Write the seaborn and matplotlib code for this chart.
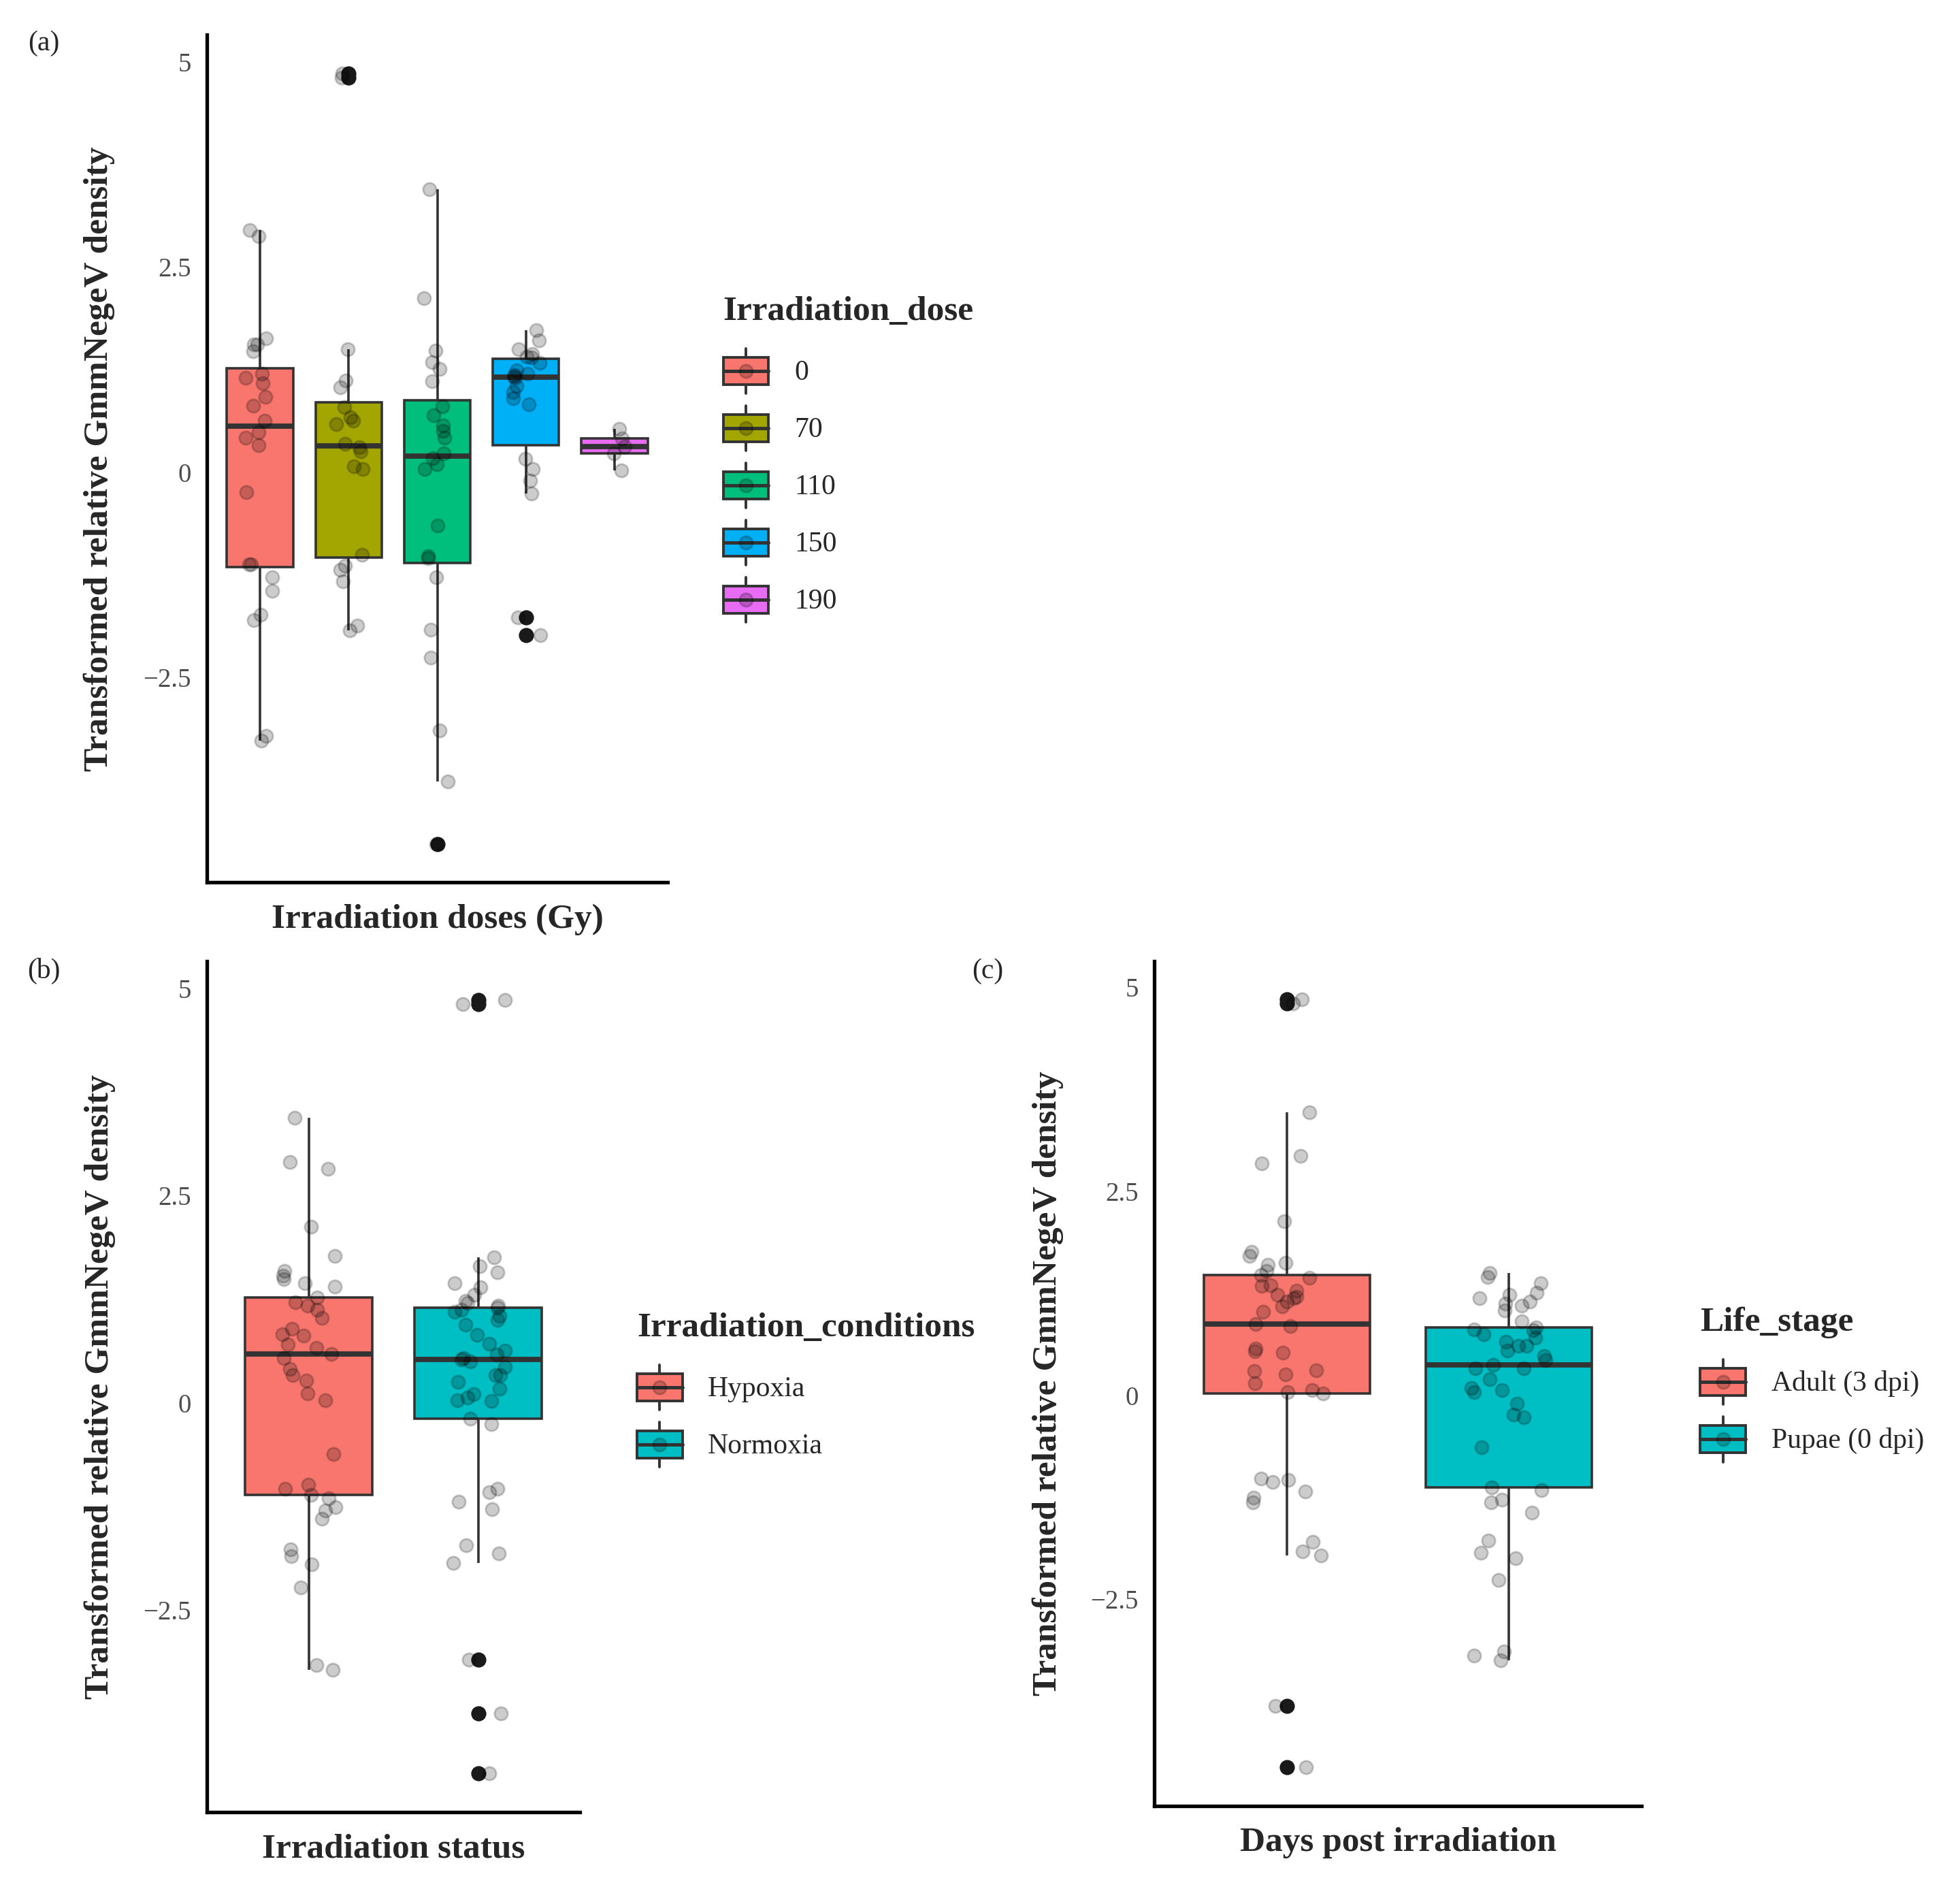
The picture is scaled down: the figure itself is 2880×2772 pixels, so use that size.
import numpy as np
import pandas as pd
import matplotlib
matplotlib.use('Agg')
import matplotlib.pyplot as plt
import seaborn as sns
from matplotlib.legend_handler import HandlerBase
from matplotlib.patches import Rectangle, Patch
from matplotlib.lines import Line2D

# panel (a): irradiation dose groups
dose_names = ['0', '70', '110', '150', '190']
dose_0 = [-3.27, -3.21, -1.80, -1.74, -1.45, -1.28, -1.12, -1.12, -0.24, 0.33, 0.42, 0.49,
          0.63, 0.81, 0.92, 1.08, 1.15, 1.20, 1.47, 1.56, 1.56, 1.63, 2.88, 2.95]
dose_70 = [-1.93, -1.87, -1.33, -1.19, -1.14, -1.01, 0.04, 0.07, 0.25, 0.30, 0.345, 0.59,
           0.63, 0.665, 0.79, 1.03, 1.12, 1.50, 4.81, 4.86]
dose_110 = [-4.53, -3.77, -3.15, -2.26, -1.92, -1.28, -1.05, -1.02, -0.65, 0.04, 0.10, 0.17,
            0.23, 0.42, 0.50, 0.57, 0.69, 0.80, 1.11, 1.26, 1.34, 1.48, 2.12, 3.45]
dose_150 = [-1.99, -1.77, -0.26, -0.10, 0.04, 0.16, 0.83, 0.90, 0.98, 1.05, 1.15, 1.17,
            1.18, 1.20, 1.24, 1.33, 1.40, 1.41, 1.44, 1.50, 1.61, 1.73]
dose_190 = [0.02, 0.23, 0.31, 0.41, 0.53]

# panel (b): irradiation conditions
cond_names = ['Hypoxia', 'Normoxia']
hypoxia = [-3.22, -3.16, -2.23, -1.95, -1.85, -1.77, -1.40, -1.30, -1.26, -1.15, -1.11, -1.04,
           -0.99, -0.62, 0.03, 0.11, 0.27, 0.33, 0.41, 0.54, 0.59, 0.66, 0.70, 0.81, 0.83,
           0.89, 1.02, 1.12, 1.17, 1.21, 1.27, 1.40, 1.44, 1.49, 1.53, 1.59, 1.77, 2.12,
           2.82, 2.90, 3.44]
normoxia = [-4.47, -3.75, -3.10, -1.93, -1.82, -1.72, -1.28, -1.19, -1.08, -1.04, -0.26, -0.19,
            0.02, 0.03, 0.06, 0.10, 0.17, 0.25, 0.33, 0.33, 0.43, 0.50, 0.52, 0.54, 0.58,
            0.63, 0.71, 0.82, 0.94, 1.00, 1.05, 1.10, 1.12, 1.15, 1.17, 1.20, 1.23, 1.30,
            1.39, 1.44, 1.57, 1.65, 1.75, 4.81, 4.86]

# panel (c): life stage
stage_names = ['Adult (3 dpi)', 'Pupae (0 dpi)']
adult = [-4.56, -3.81, -1.96, -1.91, -1.80, -1.31, -1.25, -1.18, -1.06, -1.04, -1.02, 0.02,
         0.04, 0.06, 0.15, 0.26, 0.30, 0.31, 0.52, 0.54, 0.57, 0.85, 0.87, 1.02, 1.09, 1.15,
         1.19, 1.21, 1.23, 1.28, 1.34, 1.35, 1.44, 1.47, 1.52, 1.60, 1.62, 1.71, 1.76, 2.13,
         2.84, 2.93, 3.47, 4.80, 4.85]
pupae = [-3.25, -3.19, -3.14, -2.26, -2.00, -1.93, -1.78, -1.44, -1.31, -1.28, -1.16, -1.13,
         -0.64, -0.27, -0.24, -0.10, 0.04, 0.06, 0.09, 0.20, 0.33, 0.33, 0.37, 0.43, 0.48,
         0.55, 0.61, 0.61, 0.66, 0.71, 0.75, 0.80, 0.81, 0.83, 0.91, 1.04, 1.10, 1.12, 1.15,
         1.19, 1.23, 1.26, 1.37, 1.45, 1.50]

dose_colors = ['#F8766D', '#A3A500', '#00BF7D', '#00B0F6', '#E76BF3']
two_colors = ['#F8766D', '#00BFC4']
LINE = '#333333'
YLAB = 'Transformed relative GmmNegeV density'


class BoxKey(HandlerBase):
    # ggplot-like boxplot legend key
    def create_artists(self, legend, orig_handle, xdescent, ydescent, width, height, fontsize, trans):
        x0, y0 = -xdescent, -ydescent
        cx, cy = x0 + width / 2, y0 + height / 2
        lw = 1.4
        lo = Line2D([cx, cx], [y0, y0 + 0.2 * height], color=LINE, lw=lw, transform=trans)
        hi = Line2D([cx, cx], [y0 + 0.8 * height, y0 + height], color=LINE, lw=lw, transform=trans)
        box = Rectangle((x0, y0 + 0.2 * height), width, 0.6 * height, facecolor=orig_handle.get_facecolor(),
                        edgecolor=LINE, lw=lw, transform=trans)
        med = Line2D([x0, x0 + width], [cy, cy], color=LINE, lw=1.8, transform=trans)
        dot = Line2D([cx], [cy], marker='o', ms=7, color='black', alpha=0.2, ls='', transform=trans)
        return [lo, hi, box, med, dot]


def long_table(names, groups, col):
    rows = {col: [], 'value': []}
    for n, g in zip(names, groups):
        rows[col] += [n] * len(g)
        rows['value'] += list(g)
    return pd.DataFrame(rows)


def panel(ax, df, col, order, colors, xlabel):
    sns.boxplot(data=df, x=col, y='value', order=order, hue=col, hue_order=order, palette=colors,
                saturation=1, width=0.75, linecolor=LINE, linewidth=1.3, legend=False, ax=ax,
                medianprops=dict(linewidth=2.8, color=LINE),
                capprops=dict(linewidth=0),
                flierprops=dict(marker='o', markerfacecolor='#1a1a1a', markeredgecolor='#1a1a1a',
                                markersize=7))
    sns.stripplot(data=df, x=col, y='value', order=order, color='black', alpha=0.2, size=7,
                  jitter=0.17, linewidth=1, edgecolor='black', zorder=3, ax=ax)

    lo, hi = df['value'].min(), df['value'].max()
    pad = 0.05 * (hi - lo)
    ax.set_ylim(lo - pad, hi + pad)
    ax.set_xlim(-0.6, len(order) - 0.4)
    ax.set_yticks([-2.5, 0, 2.5, 5])
    ax.set_yticklabels(['\u22122.5', '0', '2.5', '5'])
    ax.set_xticks(range(len(order)))
    ax.set_xticklabels([])
    ax.tick_params(axis='both', length=5, width=1.1, color=LINE, labelsize=14, labelcolor='#4D4D4D')
    sns.despine(ax=ax)
    for s in ['left', 'bottom']:
        ax.spines[s].set_linewidth(1.9)
        ax.spines[s].set_color('black')
    ax.set_xlabel(xlabel, fontsize=18.5, fontweight='bold')
    ax.set_ylabel(YLAB, fontsize=18.5, fontweight='bold')


def legend(fig, names, colors, title, x, y):
    handles = [Patch(facecolor=c) for c in colors]
    leg = fig.legend(handles, names, title=title, loc='upper left', bbox_to_anchor=(x, y), frameon=False,
                     handler_map={Patch: BoxKey()}, fontsize=15,
                     title_fontproperties={'weight': 'bold', 'size': 18.5}, alignment='left',
                     handlelength=1.6, handleheight=2.08, labelspacing=0.42, handletextpad=0.9,
                     borderaxespad=0, borderpad=0)
    # a bit more room between title and keys
    leg._legend_box.sep = 11
    return leg


def main():
    np.random.seed(3)
    sns.set_style('white')
    plt.rcParams['font.family'] = ['Liberation Serif', 'DejaVu Serif']

    fig = plt.figure(figsize=(14.4, 13.86), dpi=200)
    ax_a = fig.add_axes([0.1056, 0.5324, 0.2350, 0.4491])
    ax_b = fig.add_axes([0.1056, 0.0397, 0.1902, 0.4510])
    ax_c = fig.add_axes([0.5890, 0.0430, 0.2484, 0.4477])

    df_a = long_table(dose_names, [dose_0, dose_70, dose_110, dose_150, dose_190], 'Irradiation_dose')
    df_b = long_table(cond_names, [hypoxia, normoxia], 'Irradiation_conditions')
    df_c = long_table(stage_names, [adult, pupae], 'Life_stage')

    panel(ax_a, df_a, 'Irradiation_dose', dose_names, dose_colors, 'Irradiation doses (Gy)')
    panel(ax_b, df_b, 'Irradiation_conditions', cond_names, two_colors, 'Irradiation status')
    panel(ax_c, df_c, 'Life_stage', stage_names, two_colors, 'Days post irradiation')

    ax_a.yaxis.set_label_coords(-0.20, 0.5)
    ax_b.yaxis.set_label_coords(-0.245, 0.5)
    ax_c.yaxis.set_label_coords(-0.186, 0.5)
    for ax in [ax_a, ax_b, ax_c]:
        ax.xaxis.set_label_coords(0.5, -0.025)

    legend(fig, dose_names, dose_colors, 'Irradiation_dose', 0.369, 0.843)
    legend(fig, cond_names, two_colors, 'Irradiation_conditions', 0.325, 0.3044)
    legend(fig, stage_names, two_colors, 'Life_stage', 0.8675, 0.3074)

    fig.text(0.0224, 0.977, '(a)', fontsize=15, ha='center', va='center')
    fig.text(0.0224, 0.4854, '(b)', fontsize=15, ha='center', va='center')
    fig.text(0.504, 0.4854, '(c)', fontsize=15, ha='center', va='center')

    fig.savefig('out.png', dpi=200)
    plt.close(fig)


if __name__ == '__main__':
    main()
